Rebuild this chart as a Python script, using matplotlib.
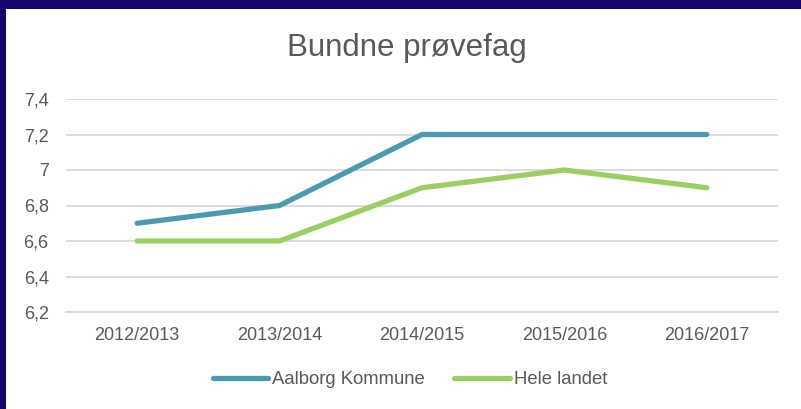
import matplotlib
matplotlib.use('Agg')
import matplotlib.pyplot as plt
from matplotlib.patches import Rectangle

# data
years = ['2012/2013', '2013/2014', '2014/2015', '2015/2016', '2016/2017']
aalborg = [6.7, 6.8, 7.2, 7.2, 7.2]
hele_landet = [6.6, 6.6, 6.9, 7.0, 6.9]
y_ticks = [6.2, 6.4, 6.6, 6.8, 7.0, 7.2, 7.4]
y_tick_labels = ['6,2', '6,4', '6,6', '6,8', '7', '7,2', '7,4']

TEXT = '#595959'
GRID = '#d9d9d9'
NAVY = '#14066a'
COLORS = {'aalborg': '#4a9bb0', 'hele': '#9bcf63'}

plt.rcParams['font.family'] = ['Liberation Sans', 'DejaVu Sans']

W, H = 801, 409
fig = plt.figure(figsize=(W / 100, H / 100), dpi=100)
fig.patch.set_facecolor(NAVY)
# white chart area, leaving the dark frame on top and left
fig.patches.append(Rectangle((6 / W, 0), 1 - 6 / W, 1 - 9 / H,
                             transform=fig.transFigure, facecolor='white',
                             edgecolor='none', zorder=-5))

ax = fig.add_axes([66 / W, 1 - 312 / H, (778 - 66) / W, (312 - 99) / H])
ax.set_facecolor('none')

x = range(len(years))
ax.plot(x, aalborg, color=COLORS['aalborg'], lw=3.8, solid_capstyle='round',
        solid_joinstyle='round', label='Aalborg Kommune', zorder=3)
ax.plot(x, hele_landet, color=COLORS['hele'], lw=3.8, solid_capstyle='round',
        solid_joinstyle='round', label='Hele landet', zorder=3)

ax.set_xlim(-0.5, len(years) - 0.5)
ax.set_ylim(y_ticks[0], y_ticks[-1])
ax.set_xticks(list(x))
ax.set_xticklabels(years)
ax.set_yticks(y_ticks)
ax.set_yticklabels(y_tick_labels)
ax.tick_params(axis='both', length=0, labelsize=13, colors=TEXT)
ax.tick_params(axis='x', pad=11)
ax.tick_params(axis='y', pad=12.5)

ax.grid(axis='y', color=GRID, lw=1.3)
ax.set_axisbelow(True)
for s in ['top', 'right', 'left']:
    ax.spines[s].set_visible(False)
ax.spines['bottom'].set_color(GRID)
ax.spines['bottom'].set_linewidth(1.3)

fig.text(407 / W, 1 - 48 / H, 'Bundne prøvefag', ha='center', va='center',
         fontsize=22.5, color=TEXT)

leg = fig.legend(loc='center', bbox_to_anchor=(410 / W, 1 - 380 / H), ncol=2,
                 frameon=False, fontsize=13.3, handlelength=3.0, handletextpad=0.2,
                 columnspacing=1.6)
for t in leg.get_texts():
    t.set_color(TEXT)

fig.savefig('out.png', dpi=100, facecolor=fig.get_facecolor())
